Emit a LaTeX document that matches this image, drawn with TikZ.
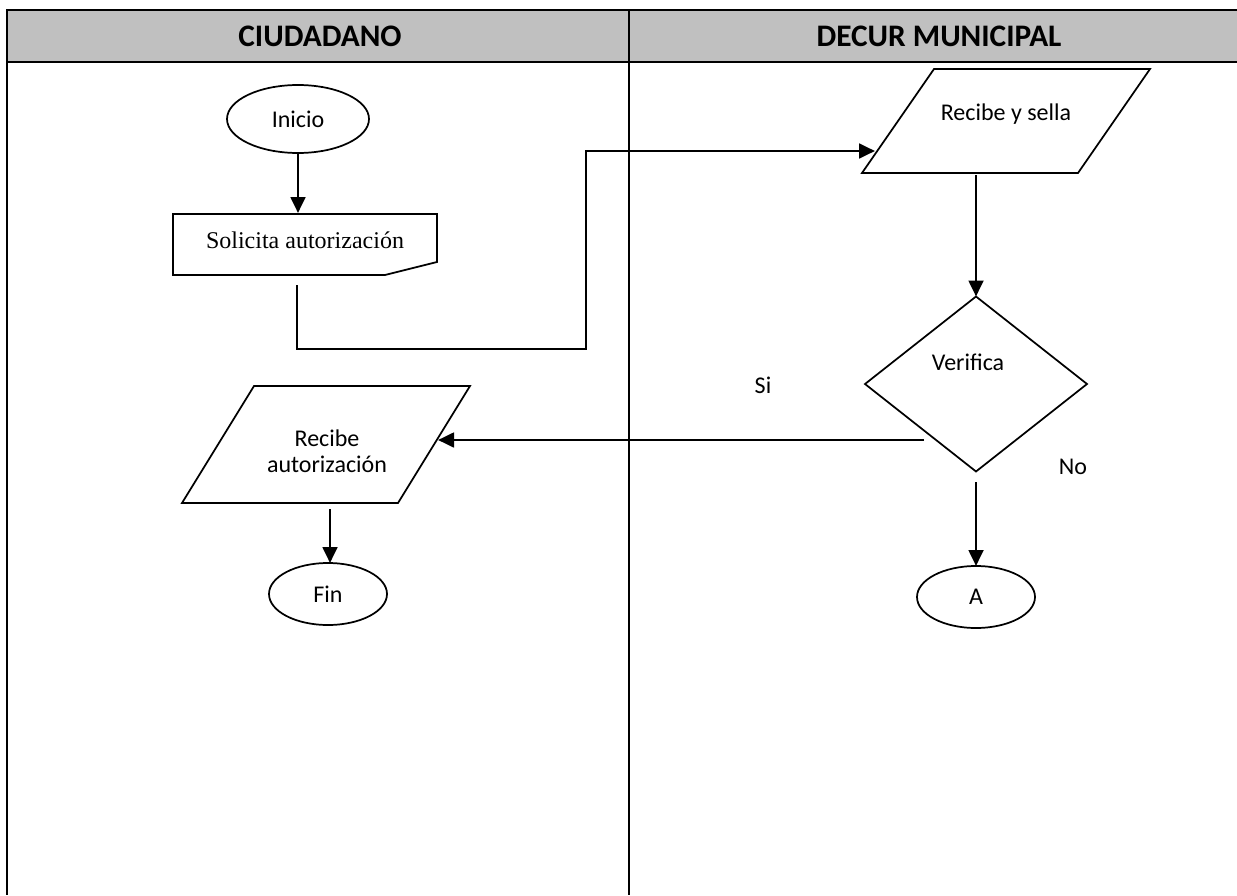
\documentclass[tikz,border=0pt]{standalone}
\usepackage{fontspec}
\setmainfont{Carlito}
\newfontfamily\serifrm{Liberation Serif}
\usetikzlibrary{shapes.geometric,arrows.meta}
\definecolor{hdrgray}{HTML}{C0C0C0}

\begin{document}
\begin{tikzpicture}[x=0.75pt,y=-0.75pt,
  lane/.style={line width=1.9pt},
  outline/.style={line width=1.3pt},
  flow/.style={line width=2.1pt,-{Triangle[length=12pt,width=11pt]}},
  lbl/.style={font=\fontsize{18}{19.5}\selectfont,inner sep=0pt,align=center},
  hdr/.style={font=\fontsize{23.5}{27}\selectfont\bfseries,inner sep=0pt},
  term/.style={ellipse,draw,line width=1.3pt,inner sep=0pt,outer sep=0pt,
    font=\fontsize{18}{19.5}\selectfont}
]
\useasboundingbox (0,0) rectangle (1237,895);

% swimlane table
\fill[hdrgray] (7,10) rectangle (1237,62);
\draw[lane] (1237,10) -- (7,10) -- (7,895);
\draw[lane] (7,62) -- (1237,62);
\draw[lane] (629,10) -- (629,895);
\node[hdr] (lane1) at (320,36) {CIUDADANO};
\node[hdr] (lane2) at (939,36) {DECUR MUNICIPAL};

% CIUDADANO lane
\node[term,minimum width=106.5pt,minimum height=51pt] (inicio) at (298,119) {Inicio};

\draw[outline] (173,214) -- (437,214) -- (437,262) -- (385,275) -- (173,275) -- cycle;
\node[lbl,font=\serifrm\fontsize{18}{19.5}\selectfont] (solicita) at (305,240) {Solicita autorización};
\coordinate (solTop) at (298,213);
\coordinate (solOut) at (297,285);

\draw[outline] (182,503) -- (254,386) -- (470,386) -- (398,503) -- cycle;
\node[lbl] (recaut) at (327,451) {Recibe\\autorización};
\coordinate (recautIn) at (438,440);
\coordinate (recautOut) at (330,509);

\node[term,minimum width=88.5pt,minimum height=46.5pt] (fin) at (328,594) {Fin};

% DECUR MUNICIPAL lane
\draw[outline] (862,173) -- (934,69) -- (1150,69) -- (1078,173) -- cycle;
\node[lbl] (recibe) at (1006,114) {Recibe y sella};
\coordinate (recibeIn) at (875,151);
\coordinate (recibeOut) at (976,175);

\node[diamond,draw,line width=1.3pt,inner sep=0pt,outer sep=0pt,aspect=1.2686,
  minimum width=166.5pt,minimum height=131.25pt] (verifica) at (976,384) {};
\node[lbl] (verTxt) at (968,362) {Verifica};
\coordinate (siOut) at (924,440);
\coordinate (noOut) at (976,482);

\node[term,minimum width=88.5pt,minimum height=46.5pt] (a) at (976,597) {A};

\node[lbl] (si) at (763,385) {Si};
\node[lbl] (no) at (1073,467) {No};

% connectors
\draw[flow] (inicio.south) -- (solTop);
\draw[flow] (solOut) -- (297,349) -- (586,349) -- (586,151) -- (recibeIn);
\draw[flow] (recibeOut) -- (verifica.north);
\draw[flow] (siOut) -- (recautIn);
\draw[flow] (noOut) -- (noOut |- a.north);
\draw[flow] (recautOut) -- (recautOut |- fin.north);
\end{tikzpicture}
\end{document}
